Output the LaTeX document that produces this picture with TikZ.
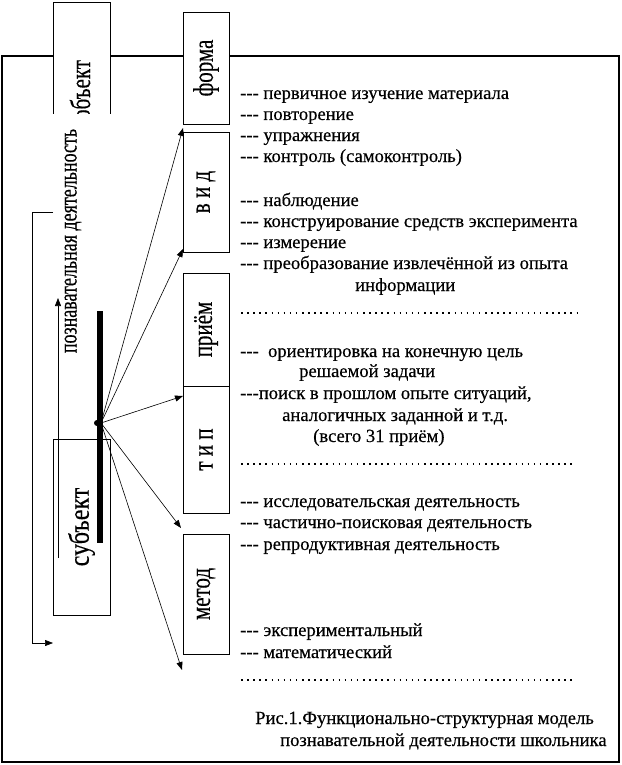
\documentclass[tikz,border=0pt]{standalone}
\usepackage{fontspec}
\setmainfont{Liberation Serif}[FakeBold=0.35]
\usetikzlibrary{arrows.meta}
\newcommand{\dsh}{-{}-{}-}
\newcommand{\stretchlbl}[2]{\scalebox{1}[#1]{#2}}
\begin{document}
\begin{tikzpicture}[x=1pt,y=-1pt,
  box/.style={draw,line width=0.9pt,fill=white,rotate=90,inner sep=0pt,font=\fontsize{21}{21}\selectfont},
  item/.style={anchor=base west,font=\fontsize{18.6}{21}\selectfont,inner sep=0pt},
  arr/.style={line width=0.6pt,-{Triangle[length=8pt,width=6pt]}},
  dotrow/.style={line width=1.5pt,dash pattern=on 1.5pt off 4.6pt}
]
\useasboundingbox (0,0) rectangle (621,765);
\draw[line width=1.2pt] (2,56) rectangle (619,762);
% object box
\draw[line width=0.9pt,fill=white] (53,114) -- (53,2) -- (110,2) -- (110,114);
\node[rotate=90,font=\fontsize{21}{21}\selectfont,inner sep=0pt] (obj) at (80,90) {\stretchlbl{1.35}{объект}};
\fill[white] (52,114) rectangle (112,130);
\node[rotate=90,font=\fontsize{18}{18}\selectfont,inner sep=0pt] (pd) at (73,241) {\stretchlbl{1.4}{познавательная деятельность}};
% right boxes
\node[box,minimum width=112pt,minimum height=46pt] (forma) at (206,68) {\stretchlbl{1.35}{форма}};
\node[box,minimum width=120pt,minimum height=46pt] (vid) at (206,192) {\stretchlbl{1.35}{в и д}};
\node[box,minimum width=113pt,minimum height=46pt] (priem) at (206,329.5) {\stretchlbl{1.35}{приём}};
\node[box,minimum width=127pt,minimum height=46pt] (tip) at (206,449.5) {\stretchlbl{1.35}{т и п}};
\node[box,minimum width=120pt,minimum height=46pt] (metod) at (206,594) {\stretchlbl{1.35}{метод}};
% subject box
\node[box,minimum width=176pt,minimum height=57pt,font=\fontsize{24}{24}\selectfont] (subj) at (81.5,527) {\stretchlbl{1.2}{субъект}};
% vertical arrow
\coordinate (upS) at (58,558);
\coordinate (upE) at (58,298);
\draw[arr] (upS) -- (upE);
% bracket
\coordinate (bA) at (53,212);
\coordinate (bB) at (53,643);
\draw[arr] (bA) -- ++(-21,0) |- (bB);
% bar
\node[fill=black,inner sep=0pt,minimum width=6pt,minimum height=232pt] (bar) at (100,427) {};
\node[circle,fill=black,inner sep=0pt,minimum size=6pt] (dot) at (97,423) {};
\coordinate (src) at (101,423);
\coordinate (t1) at (183,128);
\coordinate (t2) at (183,249);
\coordinate (t3) at (183,396);
\coordinate (t4) at (181,528);
\coordinate (t5) at (182,670);
\foreach \t in {t1,t2,t3,t4,t5} \draw[arr] (src) -- (\t);
% texts
\node[item] (l1) at (240,99) {\dsh{} первичное изучение материала};
\node[item] (l2) at (240,120) {\dsh{} повторение};
\node[item] (l3) at (240,141) {\dsh{} упражнения};
\node[item] (l4) at (240,162) {\dsh{} контроль (самоконтроль)};
\node[item] (l5) at (240,206) {\dsh{} наблюдение};
\node[item] (l6) at (240,227) {\dsh{} конструирование средств эксперимента};
\node[item] (l7) at (240,248) {\dsh{} измерение};
\node[item] (l8) at (240,269) {\dsh{} преобразование извлечённой из опыта};
\node[item] (l9) at (355,291) {информации};
\coordinate (d1a) at (241,313); \coordinate (d1b) at (578,313);
\draw[dotrow] (d1a) -- (d1b);
\node[item] (l10) at (240,357) {\dsh\ \ ориентировка на конечную цель};
\node[item] (l11) at (299,377) {решаемой задачи};
\node[item] (l12) at (240,399) {\dsh{}поиск в прошлом опыте ситуаций,};
\node[item] (l13) at (282,421) {аналогичных заданной и т.д.};
\node[item] (l14) at (313,442) {(всего 31 приём)};
\coordinate (d2a) at (241,464); \coordinate (d2b) at (572,464);
\draw[dotrow] (d2a) -- (d2b);
\node[item] (l15) at (240,507) {\dsh{} исследовательская деятельность};
\node[item] (l16) at (240,528) {\dsh{} частично-поисковая деятельность};
\node[item] (l17) at (240,550) {\dsh{} репродуктивная деятельность};
\node[item] (l18) at (240,636) {\dsh{} экспериментальный};
\node[item] (l19) at (240,658) {\dsh{} математический};
\coordinate (d3a) at (241,680); \coordinate (d3b) at (572,680);
\draw[dotrow] (d3a) -- (d3b);
\node[item] (c1) at (255,724) {Рис.1.Функционально-структурная модель};
\node[item] (c2) at (280,746) {познавательной деятельности школьника};
\end{tikzpicture}
\end{document}
